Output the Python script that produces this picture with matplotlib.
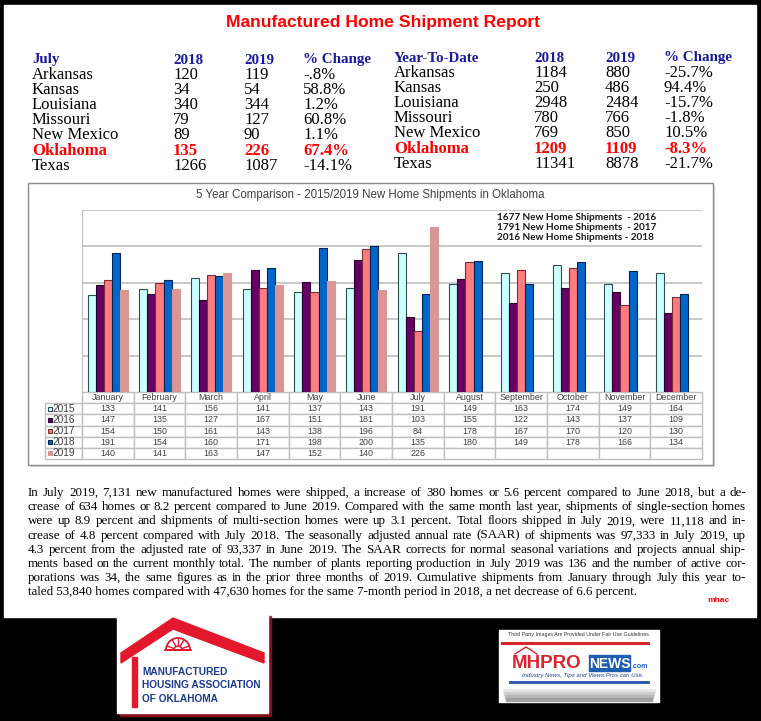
import numpy as np
import matplotlib
matplotlib.use('Agg')
import matplotlib.pyplot as plt
from matplotlib.patches import Rectangle, Polygon, Wedge
from matplotlib import font_manager

# ---- data ----
states = ['Arkansas', 'Kansas', 'Louisiana', 'Missouri', 'New Mexico', 'Oklahoma', 'Texas']
july_2018 = [120, 34, 340, 79, 89, 135, 1266]
july_2019 = [119, 54, 344, 127, 90, 226, 1087]
july_change = ['-.8%', '58.8%', '1.2%', '60.8%', '1.1%', '67.4%', '-14.1%']
ytd_2018 = [1184, 250, 2948, 780, 769, 1209, 11341]
ytd_2019 = [880, 486, 2484, 766, 850, 1109, 8878]
ytd_change = ['-25.7%', '94.4%', '-15.7%', '-1.8%', '10.5%', '-8.3%', '-21.7%']

months = ['January', 'February', 'March', 'April', 'May', 'June', 'July',
          'August', 'September', 'October', 'November', 'December']
years = ['2015', '2016', '2017', '2018', '2019']
ok_2015 = [133, 141, 156, 141, 137, 143, 191, 149, 163, 174, 149, 164]
ok_2016 = [147, 135, 127, 167, 151, 181, 103, 155, 122, 143, 137, 109]
ok_2017 = [154, 150, 161, 143, 138, 196, 84, 178, 167, 170, 120, 130]
ok_2018 = [191, 154, 160, 171, 198, 200, 135, 180, 149, 178, 166, 134]
ok_2019 = [140, 141, 163, 147, 152, 140, 226]
series = [ok_2015, ok_2016, ok_2017, ok_2018, ok_2019]
fills = ['#CCFFFF', '#660066', '#FF7C80', '#0066CC', '#D99694']
edges = ['#2F4F4F', '#2a002a', '#7a3030', '#00264d', '#D99694']

paragraph = [
    "In July 2019, 7,131 new manufactured homes were shipped, a increase of 380 homes or 5.6 percent compared to June 2018, but a de-",
    "crease of 634 homes or 8.2 percent compared to June 2019.  Compared with the same month last year, shipments of single-section homes",
    "were up 8.9 percent and shipments of multi-section homes were up 3.1 percent. Total floors shipped in July 2019, were 11,118 and in-",
    "crease of 4.8 percent compared with July 2018. The seasonally adjusted annual rate (SAAR) of shipments was 97,333 in July 2019, up",
    "4.3 percent from the adjusted rate of 93,337 in June 2019. The SAAR corrects for normal seasonal variations and projects annual ship-",
    "ments based on the current monthly total. The number of plants reporting production in July 2019 was 136 and the number of active cor-",
    "porations was 34, the same figures as in the prior three months of 2019. Cumulative shipments from January through July this year to-",
    "taled 53,840 homes compared with 47,630 homes for the same 7-month period in 2018, a net decrease of 6.6 percent.",
]

installed = {f.name for f in font_manager.fontManager.ttflist}
narrow = 'Liberation Sans Narrow' if 'Liberation Sans Narrow' in installed else 'Liberation Sans'
serif = 'Liberation Serif'
sans = 'Liberation Sans'

fig = plt.figure(figsize=(7.61, 7.21), dpi=100, facecolor='black')
bg = fig.add_axes([0, 0, 1, 1])
bg.set_xlim(0, 761)
bg.set_ylim(721, 0)
bg.axis('off')
bg.set_facecolor('black')

# white page
bg.add_patch(Rectangle((4, 5), 752, 612, color='white', zorder=0))

# title
bg.text(383, 23, 'Manufactured Home Shipment Report', color='#FF0000', fontsize=12.6,
        fontweight='bold', family=narrow, ha='center', va='center')

# top tables
navy = '#1A1A9C'
hdr_y = 60
row_y = [75, 90, 105, 120, 135, 151, 166]
def state_table(x_cols, head, v18, v19, chg, dy=0):
    for x, t in zip(x_cols, [head, '2018', '2019', '% Change']):
        bg.text(x, hdr_y + dy, t, color=navy, fontsize=10.8, fontweight='bold',
                family=serif, va='center')
    for i, s in enumerate(states):
        ok = s == 'Oklahoma'
        kw = dict(fontsize=12, family=serif, va='center',
                  color='#FF0000' if ok else 'black',
                  fontweight='bold' if ok else 'normal')
        for x, t in zip(x_cols, [s, str(v18[i]), str(v19[i]), chg[i]]):
            bg.text(x, row_y[i] + dy, t, **kw)

state_table([32, 173, 244, 303], 'July', july_2018, july_2019, july_change)
state_table([394, 534, 605, 664], 'Year-To-Date', ytd_2018, ytd_2019, ytd_change, dy=-2)

# chart frame
bg.add_patch(Rectangle((30, 185), 685, 282, facecolor='#D9D9D9', edgecolor='none', zorder=1))
bg.add_patch(Rectangle((28, 183), 685, 282, facecolor='white', edgecolor='#8C8C8C',
                       lw=1, zorder=1))
bg.text(370, 195, '5 Year Comparison - 2015/2019 New Home Shipments in Oklahoma',
        fontsize=8.3, color='#404040', family=sans, ha='center', va='center', zorder=2)

# chart axes
ax = fig.add_axes([82 / 761, 1 - 392 / 721, 620 / 761, 182 / 721])
x = np.arange(len(months))
w = 0.155
for i, (vals, fc, ec) in enumerate(zip(series, fills, edges)):
    ax.bar(x[:len(vals)] + (i - 2) * w, vals, width=w, color=fc, edgecolor=ec,
           linewidth=0.8, zorder=3)
ax.set_xlim(-0.5, 11.5)
ax.set_ylim(0, 250)
ax.set_yticks([50, 100, 150, 200, 250])
ax.set_xticks([])
ax.yaxis.grid(True, color='#BFBFBF', lw=1.2)
ax.tick_params(left=False, labelleft=False)
for s in ['right', 'bottom', 'top']:
    ax.spines[s].set_visible(False)
ax.spines['left'].set_color('#BFBFBF')

for k, yr in enumerate(['2016', '2017', '2018']):
    total = sum(series[years.index(yr)])
    sep = '  - ' if yr != '2018' else ' - '
    ax.text(497, 217 + 10 * k, f'{total} New Home Shipments{sep}{yr}', fontsize=7.2,
            fontweight='bold', family='Lato', color='#1a1a1a', va='center',
            transform=bg.transData, zorder=5)

# data table under the chart
lab_w = 37 / 620
tab_h = 67 / 182
cell_text = [[yr] + [str(v) for v in vals] + [''] * (12 - len(vals))
             for yr, vals in zip(years, series)]
tbl = ax.table(cellText=cell_text, colLabels=[''] + months,
               colWidths=[lab_w] + [1 / 12] * 12,
               bbox=[-lab_w, -tab_h, 1 + lab_w, tab_h], cellLoc='center')
tbl.auto_set_font_size(False)
tbl.set_fontsize(6.4)
for (r, c), cell in tbl.get_celld().items():
    cell.set_edgecolor('#BFBFBF')
    cell.set_linewidth(1.0)
    cell.get_text().set_color('#404040')
    cell.get_text().set_family(sans)
    if r == 0 and c == 0:
        cell.set_visible(False)
    if c == 0 and r > 0:
        cell._loc = 'right'
        cell.get_text().set_fontsize(7.3)
row_h = tab_h / 6
for k in range(5):
    ax.plot(-lab_w + 5 / 620, -(k + 1.5) * row_h, marker='s', ms=3.3,
            mfc=fills[k], mec=edges[k] if k < 4 else fills[k], mew=0.8,
            transform=ax.transAxes, clip_on=False, zorder=10)

# paragraph, justified
fig.canvas.draw()
renderer = fig.canvas.get_renderer()
x0, x1 = 28, 746
probe = bg.text(0, 0, max(paragraph, key=len), fontsize=10, family=serif)
para_fs = 10 * 714 / probe.get_window_extent(renderer).width
probe.remove()
for i, line in enumerate(paragraph):
    y = 493 + 14.2 * i
    kw = dict(fontsize=para_fs, family=serif, color='black', va='center')
    if i == len(paragraph) - 1:
        bg.text(x0, y, line, **kw)
        continue
    words = [wd for wd in line.split(' ') if wd]
    texts = [bg.text(0, y, wd, **kw) for wd in words]
    widths = [t.get_window_extent(renderer).width for t in texts]
    gap = (x1 - x0 - sum(widths)) / (len(words) - 1)
    xp = x0
    for t, wd in zip(texts, widths):
        t.set_x(xp)
        xp += wd + gap
bg.text(718, 600, 'mhac', color='#FF0000', fontsize=6, fontweight='bold',
        family=sans, ha='center', va='center')

# ---- logo: Manufactured Housing Association of Oklahoma ----
red = '#E3182D'
bg.add_patch(Rectangle((120, 616), 151, 100, color='#A0101E', alpha=0.8, zorder=2))
bg.add_patch(Rectangle((117, 613), 151, 100, color='white', zorder=3))
bg.add_patch(Polygon([(121, 653), (173, 618), (264, 653), (264, 663), (173, 629),
                      (121, 663)], closed=True, color=red, zorder=4))
bg.add_patch(Rectangle((132, 657), 5, 50, color=red, zorder=4))
bg.add_patch(Wedge((178, 650), 12, 180, 360, fill=False, edgecolor=red, lw=1.3, zorder=4))
bg.add_patch(Wedge((178, 650), 4, 180, 360, fill=False, edgecolor=red, lw=1.0, zorder=4))
bg.plot([165, 191], [650, 650], color=red, lw=1.3, zorder=4)
for ang in [200, 240, 270, 300, 340]:
    a = np.deg2rad(ang)
    bg.plot([178 + 4 * np.cos(a), 178 + 12 * np.cos(a)],
            [650 + 4 * np.sin(a), 650 + 12 * np.sin(a)], color=red, lw=1.0, zorder=4)
for yy, t in zip([672, 685, 699], ['MANUFACTURED', 'HOUSING ASSOCIATION', 'OF OKLAHOMA']):
    bg.text(142, yy, t, color='#1B3A8C', fontsize=8.4 if narrow != sans else 7.3,
            fontweight='bold', family=narrow, va='center', zorder=5)

# ---- logo: MHProNews ----
bg.add_patch(Rectangle((499, 630), 160, 72, color='white', zorder=3))
for k, c in enumerate(['#E8E8E8', '#D0D0D0', '#B8B8B8', '#A0A0A0']):
    bg.add_patch(Rectangle((503 + k, 689 + 3 * k), 152 - 2 * k, 3, color=c, zorder=4))
bg.text(579, 634.5, 'Third Party Images Are Provided Under Fair Use Guidelines.',
        fontsize=3.8, family=sans, color='#333333', ha='center', va='center', zorder=5)
bg.plot([502, 648], [643, 643], color='#D7262E', lw=2.2, zorder=5)
bg.plot([515, 526, 537], [654, 647, 654], color='#D7262E', lw=1.0, zorder=5)
bg.text(512, 663, 'MHPRO', color='#D7262E', fontsize=13.5, fontweight='bold',
        family=sans, va='center', zorder=5)
bg.add_patch(Rectangle((589, 655), 41, 16, color='#1F5FAF', zorder=5))
bg.text(609.5, 663.5, 'NEWS', color='white', fontsize=10, fontweight='bold',
        family=sans, ha='center', va='center', zorder=6)
bg.text(632, 666, '.com', color='#1F5FAF', fontsize=5, fontweight='bold',
        family=sans, va='center', zorder=5)
bg.text(583, 675, 'Industry News, Tips and Views Pros can Use.', fontsize=4.3,
        style='italic', family=sans, color='#1F3F8F', ha='center', va='center', zorder=5)
bg.plot([510, 648], [682, 682], color='#2255AA', lw=2.0, zorder=5)

fig.savefig('out.png', dpi=100, facecolor='black')
